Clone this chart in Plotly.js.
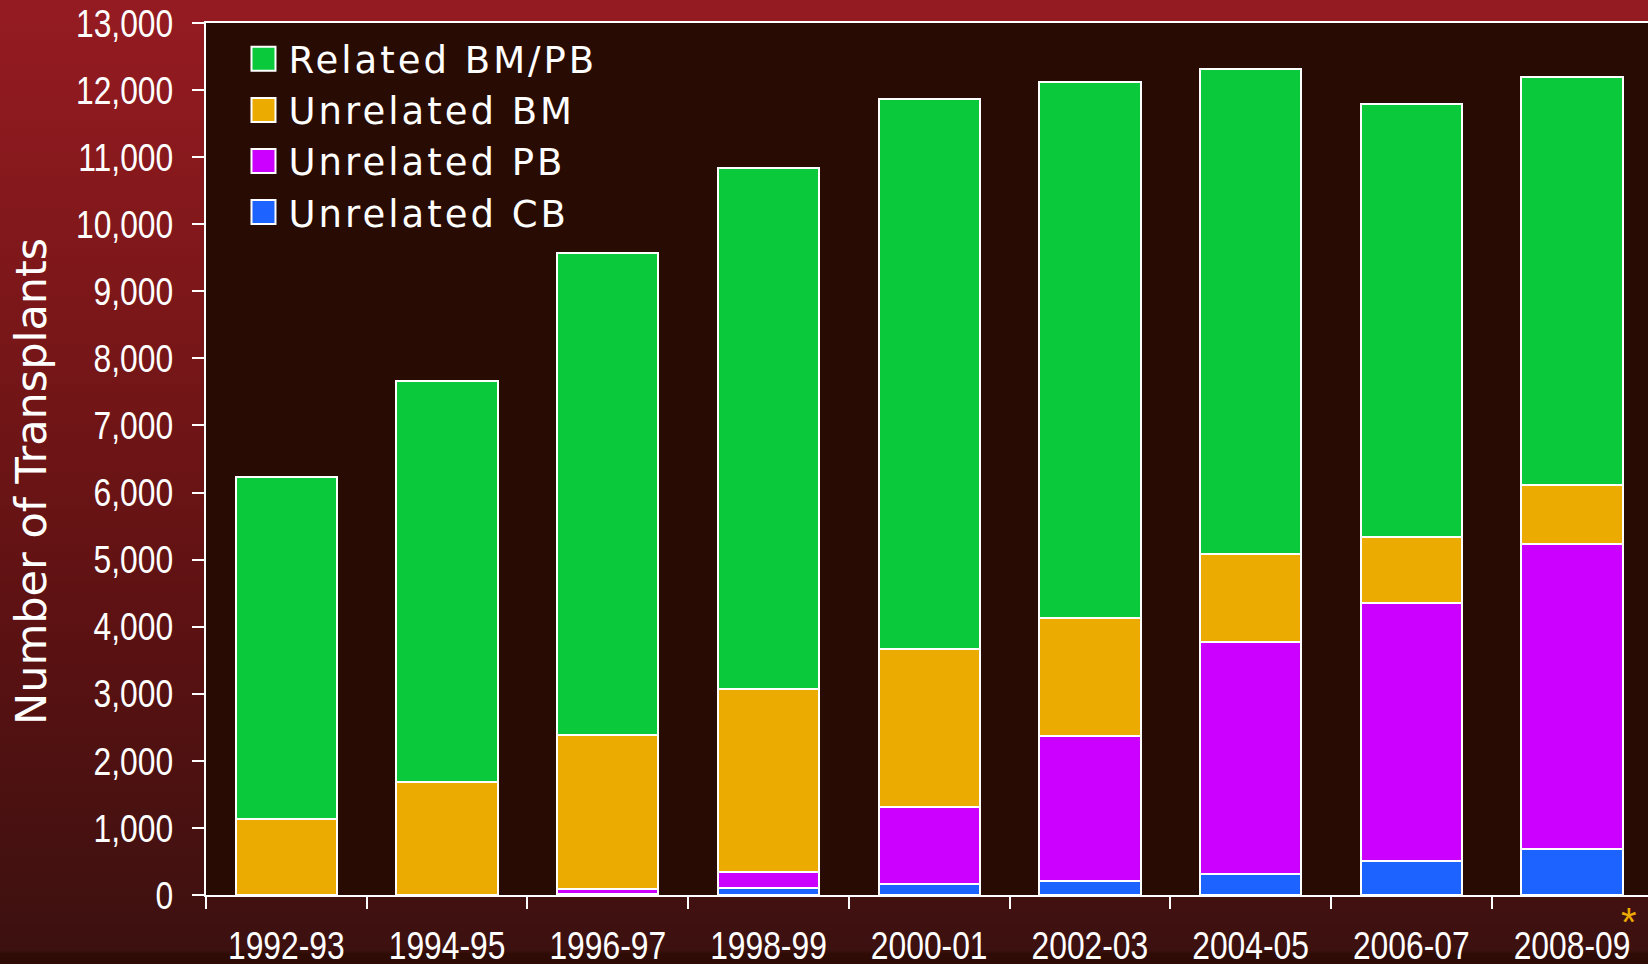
<!DOCTYPE html>
<html>
<head>
<meta charset="utf-8">
<script src="https://cdn.plot.ly/plotly-3.0.1.min.js"></script>
<style>
  html, body { margin: 0; padding: 0; width: 1648px; height: 964px; overflow: hidden; }
  body {
    background: linear-gradient(to bottom, #951b22 0px, #7c1719 300px, #5a1112 650px, #3c1110 950px, #2e0b04 954px, #2e0b04 964px);
  }
  #chart { width: 1648px; height: 964px; }
  .legendtext { letter-spacing: 3px; }
</style>
</head>
<body>
<div id="chart"></div>
<script>
// ---- data ----
const categories = ['1992-93', '1994-95', '1996-97', '1998-99', '2000-01', '2002-03', '2004-05', '2006-07', '2008-09'];
const relatedBMPB = [5090, 5970, 7190, 7770, 8205, 7985, 7220, 6450, 6090];
const unrelatedBM = [1140, 1690, 2290, 2720, 2355, 1765, 1315, 985, 880];
const unrelatedPB = [0, 0, 70, 250, 1140, 2160, 3455, 3855, 4540];
const unrelatedCB = [0, 0, 20, 100, 170, 210, 320, 500, 690];
const seriesNames = ['Unrelated CB', 'Unrelated PB', 'Unrelated BM', 'Related BM/PB'];
const seriesColors = ['#1c63ff', '#cc00ff', '#ebab00', '#0ac93b'];
const yTickValues = [0, 1000, 2000, 3000, 4000, 5000, 6000, 7000, 8000, 9000, 10000, 11000, 12000, 13000];
const yTitle = 'Number of Transplants';
const footnoteMark = '*';

const seriesValues = [unrelatedCB, unrelatedPB, unrelatedBM, relatedBMPB];

const traces = seriesValues.map((vals, i) => ({
  type: 'bar',
  name: seriesNames[i],
  x: categories,
  y: vals,
  marker: { color: seriesColors[i], line: { color: '#ffffff', width: 2 } },
  hoverinfo: 'x+y+name'
}));

const arialLike = '"Liberation Sans", Arial, sans-serif';
const sans = '"DejaVu Sans", Verdana, sans-serif';

const layout = {
  width: 1648,
  height: 964,
  paper_bgcolor: 'rgba(0,0,0,0)',
  plot_bgcolor: '#280b02',
  margin: { l: 206, r: 0, t: 23, b: 69, pad: 0 },
  barmode: 'stack',
  bargap: 0.37,
  showlegend: true,
  legend: {
    x: 0.026, y: 0.994, xanchor: 'left', yanchor: 'top',
    traceorder: 'reversed',
    bgcolor: 'rgba(0,0,0,0)',
    font: { family: sans, size: 37, color: '#ffffff' }
  },
  xaxis: {
    type: 'category',
    range: [-0.5, 8.473],
    showline: true, linecolor: '#ffffff', linewidth: 2, mirror: true,
    ticks: 'outside', ticklen: 12, tickwidth: 2, tickcolor: '#ffffff',
    tickson: 'boundaries',
    ticklabelstandoff: 15,
    showgrid: false, zeroline: false,
    tickfont: { family: arialLike, size: 39, color: '#ffffff' }
  },
  yaxis: {
    range: [0, 13000],
    tickvals: yTickValues,
    tickformat: ',d',
    showline: true, linecolor: '#ffffff', linewidth: 2,
    ticks: 'outside', ticklen: 12, tickwidth: 2, tickcolor: '#ffffff',
    ticklabelstandoff: 11,
    showgrid: false, zeroline: false,
    tickfont: { family: arialLike, size: 39, color: '#ffffff' }
  },
  annotations: [
    {
      text: yTitle, xref: 'paper', yref: 'paper',
      x: (31 - 206) / 1442, y: (895 - 482) / 872,
      xanchor: 'center', yanchor: 'middle', textangle: -90,
      showarrow: false,
      font: { family: sans, size: 43, color: '#ffffff' }
    },
    {
      text: footnoteMark, xref: 'paper', yref: 'paper',
      x: (1629 - 206) / 1442, y: -0.004, xanchor: 'center', yanchor: 'top',
      showarrow: false,
      font: { family: arialLike, size: 40, color: '#ebab00' }
    }
  ]
};

function narrowTexts(selector, factor) {
  document.querySelectorAll(selector).forEach(t => {
    const w = t.getComputedTextLength();
    t.setAttribute('textLength', (w * factor).toFixed(1));
    t.setAttribute('lengthAdjust', 'spacingAndGlyphs');
  });
}

Plotly.newPlot('chart', traces, layout, { displayModeBar: false, staticPlot: true }).then(() => {
  document.querySelectorAll('.legend .legendpoints path').forEach(p => {
    p.setAttribute('d', 'M12,12H-12V-12H12Z');
  });
  document.querySelectorAll('.legend .legendtext').forEach(t => {
    t.setAttribute('x', 45);
  });
  narrowTexts('.xtick text', 0.815);
  narrowTexts('.ytick text', 0.815);
});
</script>
</body>
</html>
